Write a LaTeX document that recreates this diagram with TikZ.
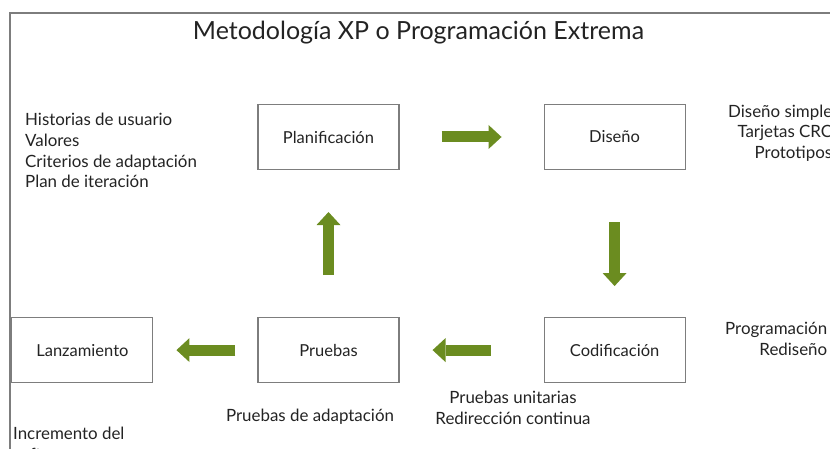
\documentclass[tikz,border=0pt]{standalone}
\usepackage{fontspec}
\setmainfont{Lato}
\usetikzlibrary{arrows.meta,positioning}
\definecolor{xpgreen}{RGB}{107,140,32}
\definecolor{xpline}{RGB}{125,125,125}
\definecolor{xptext}{RGB}{35,35,35}

\begin{document}
\begin{tikzpicture}[
    x=1pt, y=-1pt,
    font=\fontsize{16.9}{20.7}\selectfont,
    text=xptext,
    node distance=147pt and 144pt,
    phase/.style={draw=xpline, line width=1.1pt, minimum width=141pt, minimum height=65pt, inner sep=0pt, font=\fontsize{16.5}{18}\selectfont},
    note/.style={inner sep=0pt},
    flow/.style={xpgreen, line width=11pt, -{Triangle[width=24pt, length=13pt, line width=0pt 0 0]}},
  ]
  \clip (0,0) rectangle (830,449);

  % Frame and title
  \draw[xpline, line width=1.5pt] (10,13) rectangle (850,470);
  \node (title) at (418.5,32.5) {\fontsize{25}{30}\selectfont Metodología XP o Programación Extrema};

  % Phases
  \node[phase] (plan) at (328.5,137) {Planificación};
  \node[phase, right=of plan] (dis) {Diseño};
  \node[phase, below=of dis] (cod) {Codificación};
  \node[phase, below=of plan] (pru) {Pruebas};
  \node[phase, left=104pt of pru] (lan) {Lanzamiento};

  % Cycle
  \draw[flow, shorten <=42pt, shorten >=42pt] (plan) -- (dis);
  \draw[flow, shorten <=52pt, shorten >=31pt] (dis) -- (cod);
  \draw[flow, shorten <=53pt, shorten >=33pt] (cod) -- (pru);
  \draw[flow, shorten <=22pt, shorten >=23pt] (pru) -- (lan);
  \draw[flow, shorten <=42pt, shorten >=42pt] (pru) -- (plan);

  % Practices of each phase
  \node[note, align=left, anchor=west] (plannote) at (25,150.5) {Historias de usuario\\Valores\\Criterios de adaptación\\Plan de iteración};
  \node[note, align=right, anchor=west] (disnote) at (728,133) {Diseño simple\\Tarjetas CRC\\Prototipos};
  \node[note, align=right, anchor=west] (codnote) at (725,339) {Programación\\Rediseño};
  \node[note, align=center] (codnote2) at (513,407.5) {Pruebas unitarias\\Redirección continua};
  \node[note] (prunote) at (310,417) {Pruebas de adaptación};
  \node[note, align=left, anchor=west] (lannote) at (13,443.5) {Incremento del\\software};
\end{tikzpicture}
\end{document}
